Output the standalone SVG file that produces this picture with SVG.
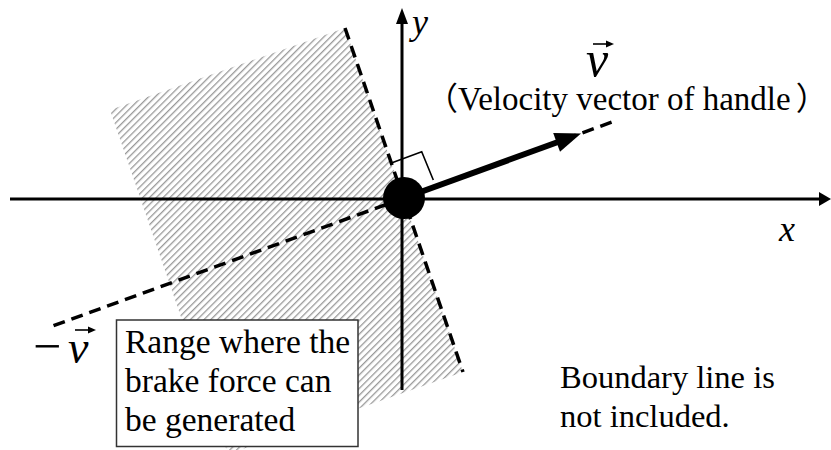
<svg xmlns="http://www.w3.org/2000/svg" width="831" height="450" viewBox="0 0 831 450">
<style>
.t{font-family:'Liberation Serif','Times New Roman',serif;fill:#000}
.cjk{font-family:'Noto Sans CJK JP',sans-serif}
.m{font-family:'Liberation Serif','Times New Roman',serif;font-style:italic;fill:#000}
.dash{stroke:#000;stroke-width:3.5;stroke-dasharray:12 7;fill:none}
.axis{stroke:#000;stroke-width:3;fill:none}
</style>
<defs>
<pattern id="hatch" patternUnits="userSpaceOnUse" width="4.8" height="4.8" patternTransform="rotate(45)">
<rect width="4.8" height="4.8" fill="#fff"/>
<line x1="0" y1="0" x2="0" y2="4.8" stroke="#999" stroke-width="2.6"/>
</pattern>
</defs>
<rect width="831" height="450" fill="#fff"/>
<g id="region">
<polygon points="345,28 110,110 228,454 463,372" fill="url(#hatch)"/>
</g>
<g id="connectors">
<line class="axis" x1="10" y1="199" x2="820" y2="199"/>
<polygon points="831,199 819,192 819,206" fill="#000"/>
<line class="axis" x1="402" y1="390" x2="402" y2="22"/>
<polygon points="402,8 396,24 408,24" fill="#000"/>
<line class="dash" x1="345" y1="28" x2="463" y2="372"/>
<line class="dash" x1="404" y1="198" x2="50" y2="327"/>
<line class="dash" x1="404" y1="198" x2="612" y2="122"/>
<polyline points="390.7,163.3 421.7,151.7 433.3,180" fill="none" stroke="#000" stroke-width="1.6"/>
<line x1="404" y1="198" x2="558" y2="142" stroke="#000" stroke-width="6"/>
<polygon points="581,133.5 553.2,133 560,151.8" fill="#000"/>
</g>
<g id="origin">
<circle cx="404" cy="198" r="21" fill="#000"/>
</g>
<g id="labels">
<text class="m" x="412" y="34" font-size="36">y</text>
<text class="m" x="779" y="241" font-size="36">x</text>
<text class="m" x="586" y="76" font-size="50">v</text>
<line x1="593" y1="44" x2="608" y2="44" stroke="#000" stroke-width="1.6"/>
<polygon points="614,44 606,40.5 606,47.5" fill="#000"/>
<text class="t" x="426" y="110" font-size="33"><tspan class="cjk" font-size="32">（</tspan>Velocity vector of handle<tspan class="cjk" font-size="32" dx="5">）</tspan></text>
<text class="t" x="33" y="363" font-size="50">−</text>
<text class="m" x="68" y="363" font-size="46">v</text>
<line x1="75" y1="330" x2="90" y2="330" stroke="#000" stroke-width="1.6"/>
<polygon points="96,330 88,326.5 88,333.5" fill="#000"/>
</g>
<g id="rangebox">
<rect x="116.5" y="320" width="241.5" height="126.5" fill="#fff" stroke="#333" stroke-width="1.5"/>
<text class="t" x="125" y="353" font-size="33.5">Range where the</text>
<text class="t" x="125" y="392" font-size="33.5">brake force can</text>
<text class="t" x="125" y="431" font-size="33.5">be generated</text>
</g>
<g id="note">
<text class="t" x="560" y="388" font-size="32.5">Boundary line is</text>
<text class="t" x="560" y="427" font-size="32.5">not included.</text>
</g>
</svg>
